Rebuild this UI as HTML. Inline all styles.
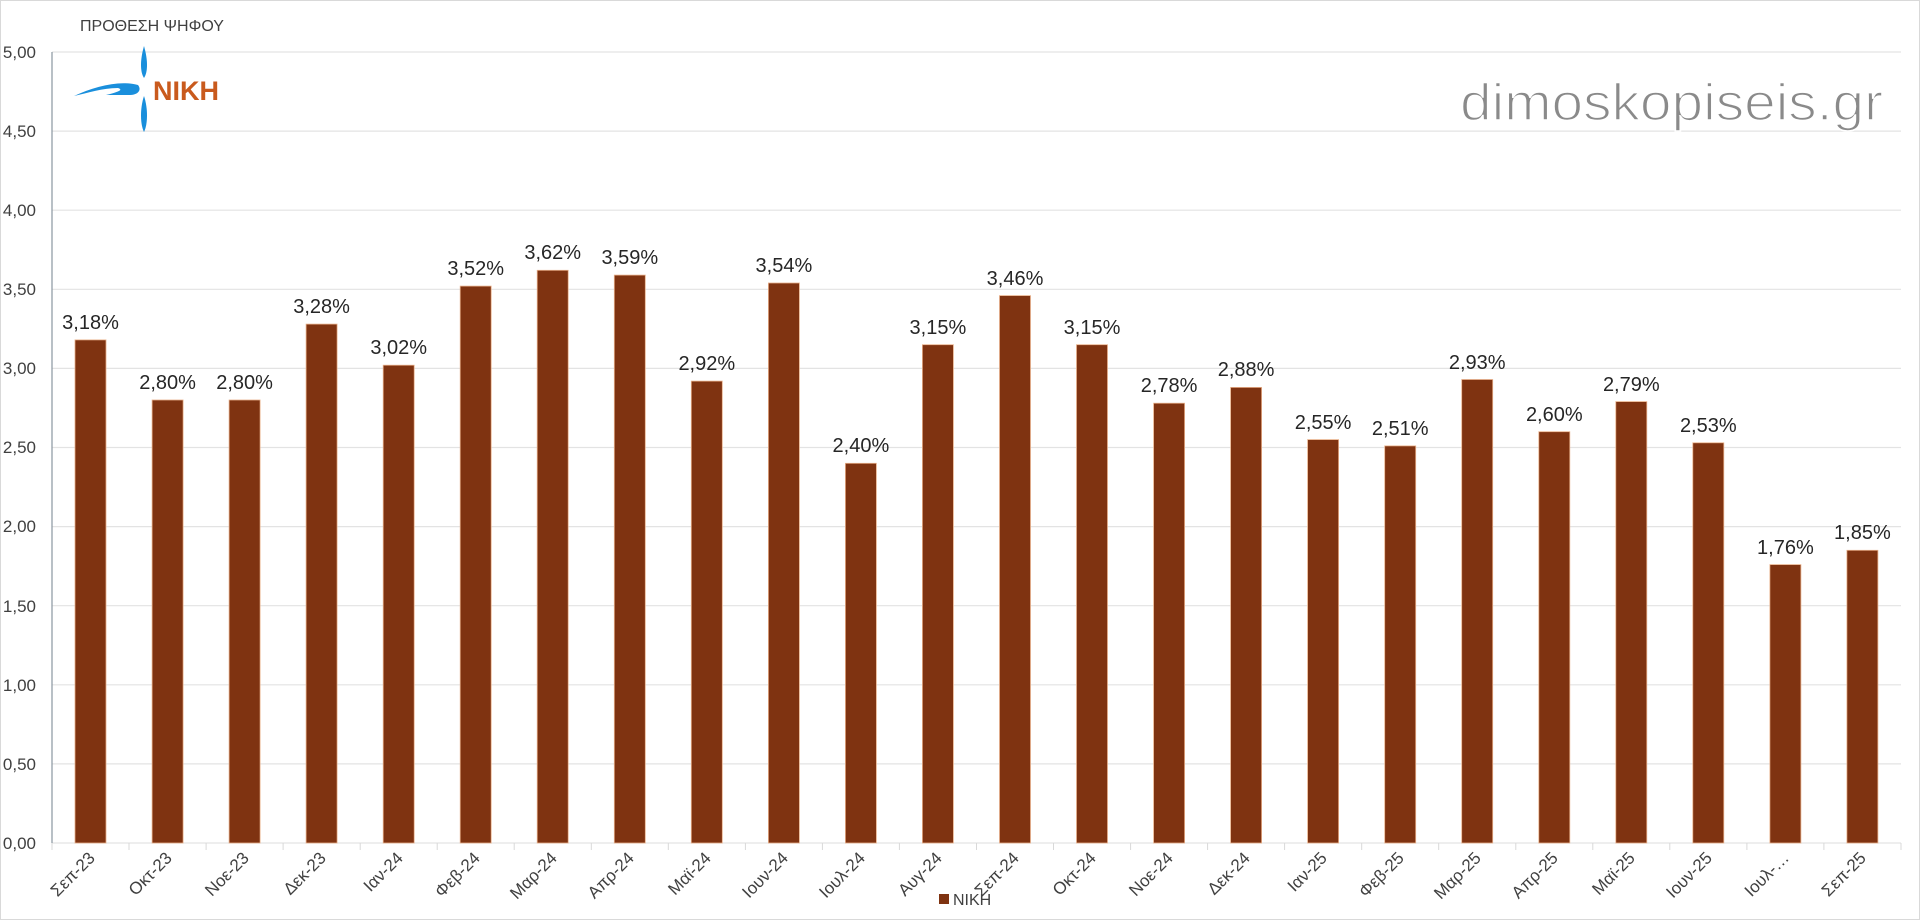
<!DOCTYPE html>
<html><head><meta charset="utf-8"><style>
html,body{margin:0;padding:0;background:#fff;}
svg{display:block;}
text{font-family:"Liberation Sans","DejaVu Sans",sans-serif;}
</style></head><body>
<svg width="1920" height="920" viewBox="0 0 1920 920" xmlns="http://www.w3.org/2000/svg">
<rect x="0.5" y="0.5" width="1919" height="919" fill="#fff" stroke="#d9d9d9"/>
<text x="80" y="31" font-size="16" fill="#404040">ΠΡΟΘΕΣΗ ΨΗΦΟΥ</text>
<g stroke="#e3e3e3" stroke-width="1.2">
<line x1="52" x2="1901" y1="52" y2="52"/><line x1="52" x2="1901" y1="131.1" y2="131.1"/>
<line x1="52" x2="1901" y1="210.2" y2="210.2"/><line x1="52" x2="1901" y1="289.3" y2="289.3"/>
<line x1="52" x2="1901" y1="368.4" y2="368.4"/><line x1="52" x2="1901" y1="447.5" y2="447.5"/>
<line x1="52" x2="1901" y1="526.6" y2="526.6"/><line x1="52" x2="1901" y1="605.7" y2="605.7"/>
<line x1="52" x2="1901" y1="684.8" y2="684.8"/><line x1="52" x2="1901" y1="763.9" y2="763.9"/>
<line x1="52" x2="1901" y1="843" y2="843"/>
</g>
<line x1="52" x2="52" y1="52" y2="843" stroke="#8a96a0" stroke-width="1.2"/>
<g stroke="#d9d9d9" stroke-width="1">
<line x1="129.0" x2="129.0" y1="843" y2="850"/><line x1="206.1" x2="206.1" y1="843" y2="850"/><line x1="283.1" x2="283.1" y1="843" y2="850"/><line x1="360.2" x2="360.2" y1="843" y2="850"/><line x1="437.2" x2="437.2" y1="843" y2="850"/><line x1="514.2" x2="514.2" y1="843" y2="850"/><line x1="591.3" x2="591.3" y1="843" y2="850"/><line x1="668.3" x2="668.3" y1="843" y2="850"/><line x1="745.4" x2="745.4" y1="843" y2="850"/><line x1="822.4" x2="822.4" y1="843" y2="850"/><line x1="899.4" x2="899.4" y1="843" y2="850"/><line x1="976.5" x2="976.5" y1="843" y2="850"/><line x1="1053.5" x2="1053.5" y1="843" y2="850"/><line x1="1130.6" x2="1130.6" y1="843" y2="850"/><line x1="1207.6" x2="1207.6" y1="843" y2="850"/><line x1="1284.6" x2="1284.6" y1="843" y2="850"/><line x1="1361.7" x2="1361.7" y1="843" y2="850"/><line x1="1438.7" x2="1438.7" y1="843" y2="850"/><line x1="1515.8" x2="1515.8" y1="843" y2="850"/><line x1="1592.8" x2="1592.8" y1="843" y2="850"/><line x1="1669.8" x2="1669.8" y1="843" y2="850"/><line x1="1746.9" x2="1746.9" y1="843" y2="850"/><line x1="1823.9" x2="1823.9" y1="843" y2="850"/><line x1="1901" x2="1901" y1="843" y2="850"/><line x1="52" x2="52" y1="843" y2="850"/>
</g>
<g font-size="17" fill="#404040" text-anchor="end">
<text x="36" y="58">5,00</text><text x="36" y="137">4,50</text><text x="36" y="216">4,00</text>
<text x="36" y="295">3,50</text><text x="36" y="374">3,00</text><text x="36" y="453">2,50</text>
<text x="36" y="532">2,00</text><text x="36" y="612">1,50</text><text x="36" y="691">1,00</text>
<text x="36" y="770">0,50</text><text x="36" y="849">0,00</text>
</g>
<path d="M144 46 C140 60 140 72 144 78 C148 72 148 60 144 46 Z" fill="#1a8fdc"/>
<path d="M144 96 C140 108 140 124 144 132 C148 124 148 108 144 96 Z" fill="#1a8fdc"/>
<path d="M74 96 C95 86 120 80 138 85 C142 90 138 95 130 95 L106 95 C118 92 124 90 118 88 C102 88 88 93 74 96 Z" fill="#1a8fdc"/>
<text x="153" y="100" font-size="27" font-weight="bold" fill="#c95a1d">NIKH</text>
<text x="1460" y="120" font-size="52" fill="#8a8a8a" stroke="#fff" stroke-width="1.6" textLength="423" lengthAdjust="spacingAndGlyphs">dimoskopiseis.gr</text>
<g fill="#7f3311" stroke="#e8b08a" stroke-width="0.8">
<rect x="75" y="339.9" width="31" height="503.1"/>
<rect x="152.1" y="400" width="31" height="443"/>
<rect x="229.1" y="400" width="31" height="443"/>
<rect x="306.1" y="324.1" width="31" height="518.9"/>
<rect x="383.2" y="365.2" width="31" height="477.8"/>
<rect x="460.2" y="286.1" width="31" height="556.9"/>
<rect x="537.2" y="270.3" width="31" height="572.7"/>
<rect x="614.3" y="275.1" width="31" height="567.9"/>
<rect x="691.3" y="381.1" width="31" height="461.9"/>
<rect x="768.4" y="283" width="31" height="560"/>
<rect x="845.4" y="463.3" width="31" height="379.7"/>
<rect x="922.4" y="344.7" width="31" height="498.3"/>
<rect x="999.5" y="295.6" width="31" height="547.4"/>
<rect x="1076.5" y="344.7" width="31" height="498.3"/>
<rect x="1153.6" y="403.2" width="31" height="439.8"/>
<rect x="1230.6" y="387.4" width="31" height="455.6"/>
<rect x="1307.6" y="439.6" width="31" height="403.4"/>
<rect x="1384.7" y="445.9" width="31" height="397.1"/>
<rect x="1461.7" y="379.5" width="31" height="463.5"/>
<rect x="1538.8" y="431.7" width="31" height="411.3"/>
<rect x="1615.8" y="401.6" width="31" height="441.4"/>
<rect x="1692.8" y="442.8" width="31" height="400.2"/>
<rect x="1769.9" y="564.6" width="31" height="278.4"/>
<rect x="1846.9" y="550.3" width="31" height="292.7"/>
</g>
<g font-size="20" fill="#262626" text-anchor="middle">
<text x="90.5" y="329">3,18%</text><text x="167.6" y="389">2,80%</text><text x="244.6" y="389">2,80%</text>
<text x="321.6" y="313">3,28%</text><text x="398.7" y="354">3,02%</text><text x="475.7" y="275">3,52%</text>
<text x="552.7" y="259">3,62%</text><text x="629.8" y="264">3,59%</text><text x="706.8" y="370">2,92%</text>
<text x="783.9" y="272">3,54%</text><text x="860.9" y="452">2,40%</text><text x="937.9" y="334">3,15%</text>
<text x="1015" y="285">3,46%</text><text x="1092" y="334">3,15%</text><text x="1169.1" y="392">2,78%</text>
<text x="1246.1" y="376">2,88%</text><text x="1323.1" y="429">2,55%</text><text x="1400.2" y="435">2,51%</text>
<text x="1477.2" y="369">2,93%</text><text x="1554.3" y="421">2,60%</text><text x="1631.3" y="391">2,79%</text>
<text x="1708.3" y="432">2,53%</text><text x="1785.4" y="554">1,76%</text><text x="1862.4" y="539">1,85%</text>
</g>
<g font-size="17" fill="#404040" text-anchor="end">
<text transform="translate(96,859) rotate(-45)">Σεπ-23</text>
<text transform="translate(173,859) rotate(-45)">Οκτ-23</text>
<text transform="translate(250,859) rotate(-45)">Νοε-23</text>
<text transform="translate(327,859) rotate(-45)">Δεκ-23</text>
<text transform="translate(404,859) rotate(-45)">Ιαν-24</text>
<text transform="translate(481,859) rotate(-45)">Φεβ-24</text>
<text transform="translate(558,859) rotate(-45)">Μαρ-24</text>
<text transform="translate(635,859) rotate(-45)">Απρ-24</text>
<text transform="translate(712,859) rotate(-45)">Μαϊ-24</text>
<text transform="translate(789,859) rotate(-45)">Ιουν-24</text>
<text transform="translate(866,859) rotate(-45)">Ιουλ-24</text>
<text transform="translate(943,859) rotate(-45)">Αυγ-24</text>
<text transform="translate(1020,859) rotate(-45)">Σεπ-24</text>
<text transform="translate(1097,859) rotate(-45)">Οκτ-24</text>
<text transform="translate(1174,859) rotate(-45)">Νοε-24</text>
<text transform="translate(1251,859) rotate(-45)">Δεκ-24</text>
<text transform="translate(1328,859) rotate(-45)">Ιαν-25</text>
<text transform="translate(1405,859) rotate(-45)">Φεβ-25</text>
<text transform="translate(1482,859) rotate(-45)">Μαρ-25</text>
<text transform="translate(1559,859) rotate(-45)">Απρ-25</text>
<text transform="translate(1636,859) rotate(-45)">Μαϊ-25</text>
<text transform="translate(1713,859) rotate(-45)">Ιουν-25</text>
<text transform="translate(1790,859) rotate(-45)">Ιουλ-…</text>
<text transform="translate(1867,859) rotate(-45)">Σεπ-25</text>
</g>
<rect x="939" y="894" width="10" height="10" fill="#7f3311"/>
<text x="953" y="905" font-size="16" fill="#404040">NIKH</text>
</svg>
</body></html>
